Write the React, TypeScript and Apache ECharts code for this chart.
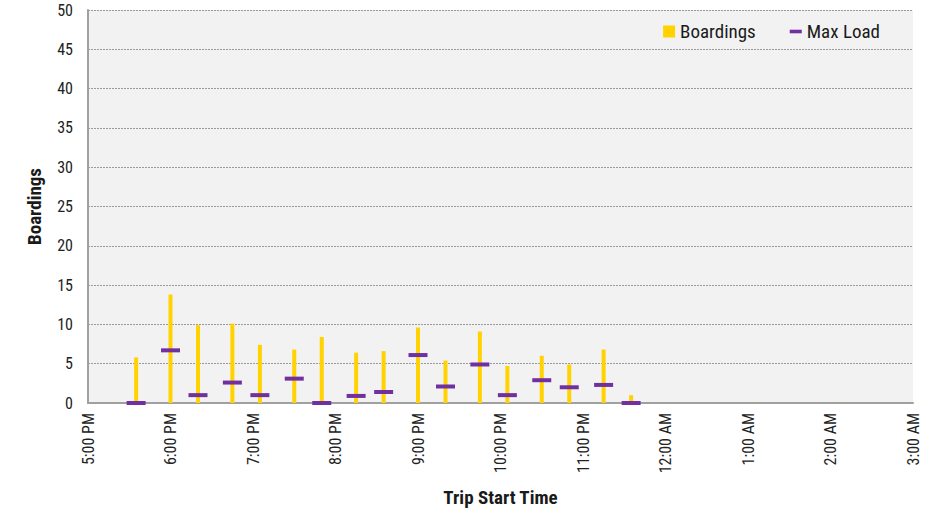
import React, { useEffect, useRef } from "react";
import * as echarts from "echarts";

const tripTimes = ["5:35 PM", "6:00 PM", "6:20 PM", "6:45 PM", "7:05 PM", "7:30 PM", "7:50 PM", "8:15 PM", "8:35 PM", "9:00 PM", "9:20 PM", "9:45 PM", "10:05 PM", "10:30 PM", "10:50 PM", "11:15 PM", "11:35 PM"];
const boardings = [5.8, 13.8, 9.9, 10.1, 7.4, 6.8, 8.4, 6.4, 6.6, 9.6, 5.4, 9.1, 4.7, 6.0, 4.9, 6.8, 1.0];
const maxLoad = [0.0, 6.7, 1.0, 2.6, 1.0, 3.1, 0.0, 0.9, 1.4, 6.1, 2.1, 4.9, 1.0, 2.9, 2.0, 2.3, 0.0];
const xTickLabels = ["5:00 PM", "6:00 PM", "7:00 PM", "8:00 PM", "9:00 PM", "10:00 PM", "11:00 PM", "12:00 AM", "1:00 AM", "2:00 AM", "3:00 AM"];

const toMinutes = (s: string) => {
  const [hm, ap] = s.split(" ");
  let [h, m] = hm.split(":").map(Number);
  if (ap === "PM" && h !== 12) h += 12;
  if (ap === "AM" && h === 12) h = 0;
  let total = h * 60 + m - 17 * 60;
  if (total < 0) total += 24 * 60;
  return total;
};

const FONT = "'Liberation Sans Narrow', 'Roboto Condensed', 'Arial Narrow', Roboto, sans-serif";

export default function App() {
  const ref = useRef<HTMLDivElement>(null);
  useEffect(() => {
    if (!ref.current) return;
    const chart = echarts.init(ref.current, null, { renderer: "svg" });
    const xs = tripTimes.map(toMinutes);
    chart.setOption({
      animation: false,
      textStyle: { fontFamily: FONT },
      grid: {
        left: 88,
        right: 38,
        top: 10,
        bottom: 111,
        show: true,
        backgroundColor: "#F2F2F2",
        borderWidth: 0,
      },
      legend: {
        right: 66,
        top: 17,
        itemWidth: 12,
        itemHeight: 12,
        itemGap: 34,
        textStyle: { fontSize: 19, color: "#1a1a1a", fontFamily: FONT },
        data: [
          { name: "Boardings", icon: "rect" },
          { name: "Max Load", icon: "path://M0,0 H10 V3 H0 Z" },
        ],
      },
      xAxis: {
        type: "value",
        min: 0,
        max: 600,
        interval: 60,
        name: "Trip Start Time",
        nameLocation: "middle",
        nameGap: 85,
        nameTextStyle: { fontSize: 19, fontWeight: "bold", color: "#1a1a1a", fontFamily: FONT },
        axisLine: { show: true, lineStyle: { color: "#A0A0A0", width: 2 } },
        axisTick: { show: false },
        splitLine: { show: false },
        axisLabel: {
          rotate: 90,
          margin: 10,
          fontSize: 16,
          color: "#222",
          fontFamily: FONT,
          formatter: (v: number) => xTickLabels[Math.round(v / 60)] ?? "",
        },
      },
      yAxis: {
        type: "value",
        min: 0,
        max: 50,
        interval: 5,
        name: "Boardings",
        nameLocation: "middle",
        nameGap: 44,
        nameTextStyle: { fontSize: 19, fontWeight: "bold", color: "#1a1a1a", fontFamily: FONT },
        axisLine: { show: true, lineStyle: { color: "#A0A0A0", width: 2 } },
        axisTick: { show: false },
        axisLabel: { margin: 15, fontSize: 16, color: "#222", fontFamily: FONT },
        splitLine: { show: true, lineStyle: { color: "#9a9a9a", type: [2, 1], width: 1 } },
      },
      series: [
        {
          name: "Boardings",
          type: "bar",
          barWidth: 4,
          itemStyle: { color: "#FFD200" },
          data: xs.map((x, i) => [x, boardings[i]]),
          z: 2,
        },
        {
          name: "Max Load",
          type: "scatter",
          symbol: "rect",
          symbolSize: [19, 4],
          itemStyle: { color: "#7030A0", opacity: 1 },
          data: xs.map((x, i) => [x, maxLoad[i]]),
          z: 3,
        },
      ],
    });
    return () => chart.dispose();
  }, []);
  return <div ref={ref} style={{ width: 951, height: 514, position: "absolute", left: 0, top: 0 }} />;
}
